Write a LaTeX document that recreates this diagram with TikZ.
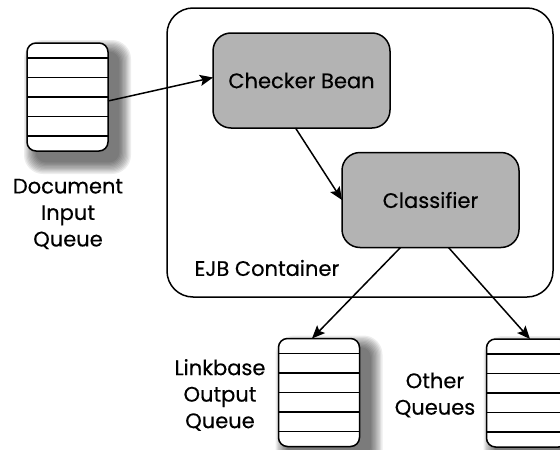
\documentclass[tikz,border=0pt]{standalone}
\usepackage{fontspec}
\setmainfont{Poppins}[UprightFeatures={FakeBold=0.4}]
\usetikzlibrary{arrows.meta, positioning, calc, backgrounds}
\definecolor{beangray}{HTML}{B3B3B3}

\begin{document}
\begin{tikzpicture}[
    x=1pt, y=-1pt,
    component/.style={draw, rounded corners=18pt, fill=beangray,
                      minimum width=177pt, minimum height=95pt,
                      outer sep=0pt, line width=1.5pt,
                      font=\fontsize{21}{26}\selectfont},
    queue/.style={draw, rounded corners=9pt, fill=white,
                  minimum width=81pt, minimum height=108pt,
                  outer sep=0pt, line width=1.5pt},
    qtext/.style={align=center, font=\fontsize{21}{26.5}\selectfont},
    conn/.style={-{Stealth[length=13pt, width=11pt, inset=2.5pt]}, line width=1.5pt},
]
    \useasboundingbox (0,0) rectangle (560,450);

    % EJB container
    \node[draw, rounded corners=26pt, line width=1.5pt, outer sep=0pt,
          minimum width=386pt, minimum height=289pt] (ejb) at (360,152.5) {};
    \node[anchor=west, font=\fontsize{21}{26}\selectfont] (ejbtext) at (191,268) {EJB Container};

    % Beans
    \node[component] (checker) at (301.5,80.5) {Checker Bean};
    \node[component] (classifier) at (430.5,200) {Classifier};

    % Queues
    \node[queue] (inq) at (67.5,97) {};
    \node[queue] (linkq) at (319,392.5) {};
    \node[queue] (otherq) at (527,393) {};
    \foreach \q in {inq, linkq, otherq}
        \foreach \dy in {-39,-19.5,0,19.5,39}
            \draw[line width=1.5pt] ([yshift=\dy pt]\q.west) -- ([yshift=\dy pt]\q.east);

    % soft shadows under the queues
    \begin{pgfonlayer}{background}
        \foreach \q in {inq, linkq, otherq}
            \foreach \s in {1,...,10}
                \fill[black, opacity=0.07, rounded corners=9pt+\s pt]
                    ($(\q.north west)+(10-1.3*\s,10-1.3*\s)$) rectangle
                    ($(\q.south east)+(10+1.3*\s,10+1.3*\s)$);
    \end{pgfonlayer}

    \node[qtext] (inqtext) at (68,214) {Document\\Input\\Queue};
    \node[qtext] (linkqtext) at (220,395) {Linkbase\\Output\\Queue};
    \node[qtext] (otherqtext) at (435,395) {Other\\Queues};

    % Connections
    \draw[conn] ([yshift=-4pt]inq.east) -- ([yshift=3pt]checker.west);
    \draw[conn] ([xshift=-6pt]checker.south) -- (classifier.west);
    \draw[conn] ([xshift=-30pt]classifier.south) -- ([xshift=-7pt]linkq.north);
    \draw[conn] ([xshift=18pt]classifier.south) -- ([xshift=3pt]otherq.north);
\end{tikzpicture}
\end{document}
